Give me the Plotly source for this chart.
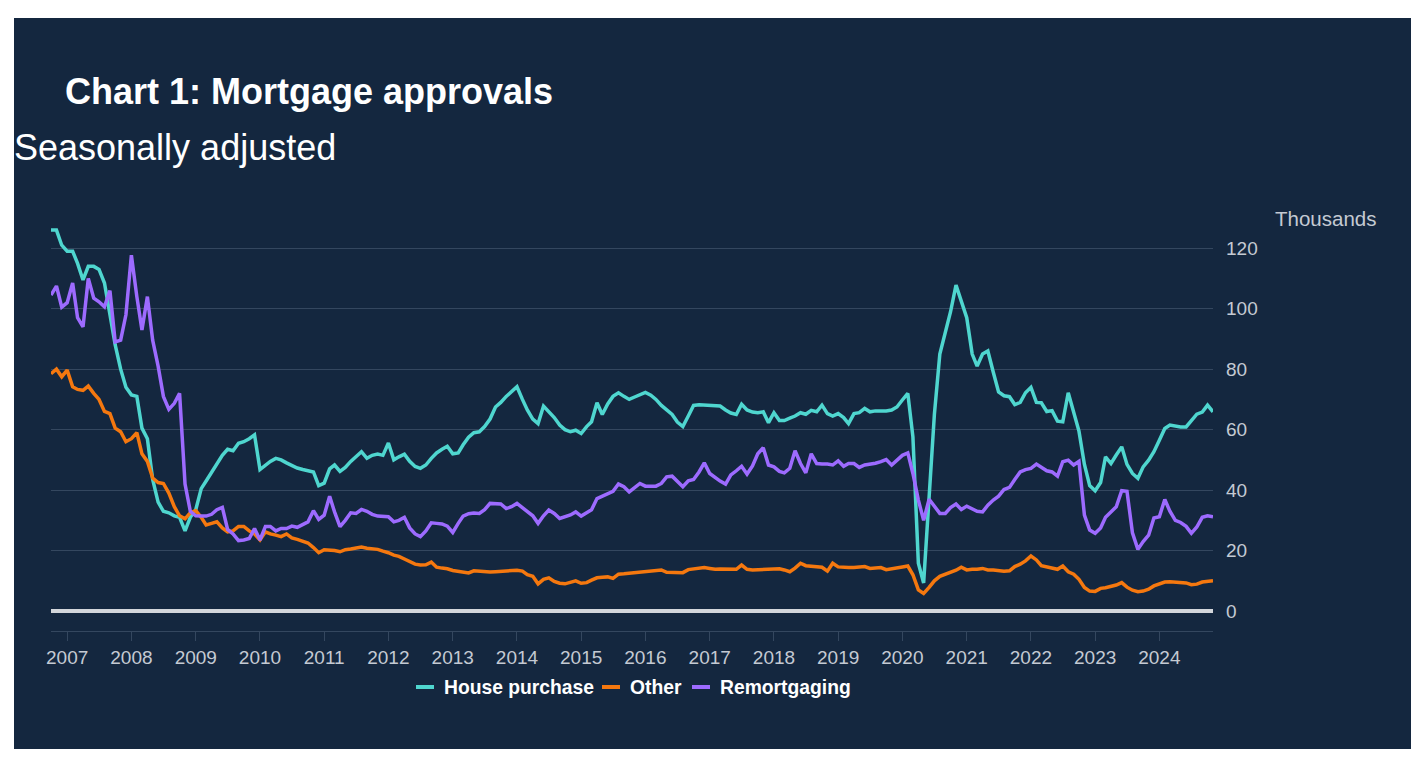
import pandas as pd
import plotly.graph_objects as go

# ---------------- data (thousands, seasonally adjusted, monthly from Oct 2006) ----------------
start_month = "2006-10-01"

house_purchase = [
    126, 126, 121, 119, 119, 115, 109.5, 114, 114, 113, 108.5, 98.5,
    88, 80, 74, 71.5, 71, 60.5, 57, 43.5, 36, 33, 32.5, 31.5,
    31, 26.5, 31, 33.5, 40.5, 43, 46, 48.5, 51.5, 53.5, 53, 55.5,
    56, 57, 58.3, 46.8, 48.2, 49.5, 50.5, 50, 49, 48, 47.3, 46.8,
    46.5, 46, 41.5, 42.3, 47, 48.3, 46.2, 47.5, 49.5, 51.2, 52.7, 50.5,
    51.5, 51.9, 51.5, 55.6, 50, 51, 51.9, 49.5, 47.8, 47.2, 48.3, 50.5,
    52.3, 53.5, 54.5, 52, 52.3, 55, 57.5, 59, 59.3, 61, 63.5, 67.5,
    69, 71, 72.5, 74.2, 70, 66.5, 63.5, 62, 67.8, 66, 64, 61.5,
    60, 59.3, 59.8, 58.7, 61, 62.6, 68.9, 65, 68.5, 71, 72.2, 71,
    70, 70.8, 71.5, 72.3, 71.4, 70, 68, 66.5, 65, 62.5, 61, 64.5,
    68, 68.2, 68.1, 68, 67.9, 67.8, 66.5, 65.5, 65, 68.4, 66.5, 65.8,
    65.6, 65.9, 62.3, 65.6, 63, 63, 63.8, 64.5, 65.6, 65.1, 66.4, 65.9,
    68.1, 65.3, 64.5, 65.3, 64, 62, 65.3, 65.6, 67, 65.9, 66.2, 66.2,
    66.2, 66.5, 67.5, 69.8, 72, 57.6, 15.8, 9.3, 38, 65, 85, 92,
    99, 107.8, 102, 97, 85, 81, 85, 86, 79, 72.5, 71.2, 70.9,
    68.3, 69, 72.2, 74, 69, 68.9, 66, 66.3, 62.8, 62.6, 72.2, 66,
    59.5, 48.5, 41.5, 39.8, 42.5, 51, 48.8, 51.6, 54.3, 48.5, 45.5, 43.9,
    47.7, 49.9, 52.7, 56.5, 60.4, 61.5, 61.2, 60.9, 60.9, 62.8, 65.1, 65.8,
    68.1, 65.9,
]

other = [
    78.5, 80, 77.5, 79.7, 74.2, 73.3, 73, 74.4, 72, 70, 66, 65.3,
    60.5, 59.3, 56, 57, 59, 52, 49.5, 44, 42.5, 42.2, 39, 34.5,
    31.5, 30.5, 32.5, 33.2, 31, 28.5, 29, 29.5, 27.5, 26.2, 26.5, 28,
    28, 26.5, 25.5, 23.5, 26.2, 25.5, 25.1, 24.6, 25.5, 24.2, 23.7, 23.2,
    22.5, 21, 19.3, 20.3, 20.2, 20, 19.6, 20.3, 20.5, 20.7, 21.2, 20.8,
    20.6, 20.4, 19.8, 19.3, 18.5, 18.1, 17.2, 16.3, 15.5, 15.2, 15.3, 16.2,
    14.5, 14.2, 14, 13.4, 13.1, 12.9, 12.6, 13.3, 13.1, 13, 12.9, 13,
    13.1, 13.1, 13.2, 13.5, 13.2, 12, 11.5, 9, 10.5, 11, 9.8, 9.2,
    9, 9.4, 10, 9.2, 9.4, 10.2, 11, 11.2, 11.3, 10.8, 12.2, 12.3,
    12.5, 12.7, 13, 13.2, 13.3, 13.4, 13.6, 12.8, 12.7, 12.6, 12.7, 13.7,
    14, 14.2, 14.4, 14.1, 13.8, 13.9, 13.8, 13.8, 13.8, 15.2, 13.8, 13.6,
    13.7, 13.8, 13.8, 13.8, 14, 13.6, 13, 14.2, 15.8, 15, 14.9, 14.7,
    14.5, 13.2, 15.8, 14.6, 14.4, 14.4, 14.4, 14.5, 14.7, 14.1, 14.3, 14.4,
    13.7, 14.1, 14.4, 14.6, 14.9, 12, 7, 5.8, 7.8, 10, 11.5, 12.2,
    12.8, 13.5, 14.5, 13.6, 13.8, 13.8, 14.1, 13.6, 13.6, 13.4, 13.2, 13.3,
    14.7, 15.5, 16.6, 18.2, 16.9, 15, 14.6, 14.1, 13.8, 14.9, 13, 12.2,
    10.5, 7.8, 6.6, 6.5, 7.5, 7.7, 8.1, 8.6, 9.4, 7.9, 6.9, 6.4,
    6.6, 7.2, 8.3, 9.1, 9.6, 9.7, 9.5, 9.4, 9.3, 8.7, 8.9, 9.6,
    9.9, 10,
]

remortgaging = [
    104.5, 107.5, 100.5, 102, 108.5, 97, 94, 110, 103.5, 102.3, 100.6, 106,
    89, 89.6, 98, 117.7, 104, 93, 104, 89.6, 81, 71, 66.7, 68.7,
    72, 42, 33, 31.5, 31.4, 31.4, 32, 33.5, 34.3, 27, 25.5, 23.3,
    23.5, 24, 27.3, 23.5, 28, 28, 26.5, 27.3, 27.3, 28.1, 27.7, 28.5,
    29.5, 33.2, 30.3, 31.7, 38, 32.8, 27.9, 30, 32.5, 32.3, 33.6, 33,
    32, 31.4, 31.4, 31.2, 29.5, 30, 31, 27.5, 25.5, 24.6, 26.5, 29.2,
    29, 28.8, 28.1, 26, 29, 31.4, 32.2, 32.4, 32.3, 33.5, 35.6, 35.5,
    35.4, 33.9, 34.5, 35.6, 34.3, 33, 31.5, 29, 31.5, 33.4, 32.3, 30.6,
    31.2, 31.8, 32.8, 31.4, 32.5, 33.5, 37.2, 38, 38.8, 39.6, 42, 41.1,
    39.4, 40.8, 42.2, 41.3, 41.3, 41.3, 42.2, 44.4, 44.6, 43, 41.1, 43.1,
    43.5, 46, 49, 45.5, 44, 43, 42, 45, 46.4, 47.9, 45.3, 48,
    52, 54, 48.3, 47.7, 46.2, 45.7, 47.2, 53, 48.8, 45.7, 52, 48.8,
    48.6, 48.6, 48.3, 49.7, 47.9, 48.8, 48.8, 47.5, 48.3, 48.5, 48.9, 49.4,
    50.1, 48.3, 49.7, 51.5, 52.3, 45.5, 36.7, 30, 37, 34.5, 32.3, 32.3,
    34.2, 35.4, 33.6, 34.7, 33.9, 33, 32.8, 35, 36.7, 38, 40.2, 40.9,
    43.5, 46, 46.8, 47.2, 48.6, 47.7, 46.4, 46, 44.6, 49.4, 49.9, 48.3,
    49.5, 31.7, 26.8, 25.7, 27.5, 31, 32.8, 34.5, 39.8, 39.6, 25.9, 20.4,
    23, 25.1, 30.8, 31.2, 36.9, 33, 30, 29.3, 28, 25.7, 27.8, 31,
    31.5, 31.2,
]

series_names = ["House purchase", "Other", "Remortgaging"]
y_ticks = [0, 20, 40, 60, 80, 100, 120]

assert len(house_purchase) == len(other) == len(remortgaging)
dates = pd.date_range(start_month, periods=len(house_purchase), freq="MS")

# ---------------- styling ----------------
NAVY = "#14273F"
GRID = "#34475F"
TICK = "#C4CAD3"
ZERO = "#D3D6DB"
COLORS = ["#4FD6CF", "#F5780F", "#9D6BFF"]
FONT = "Liberation Sans, Arial, Helvetica, sans-serif"

W, H = 1424, 762
L, R, T, B = 51, 211, 218, 131
PW, PH = W - L - R, H - T - B


def fx(px):
    return (px - L) / PW


def fy(py):
    return (H - B - py) / PH


fig = go.Figure()
for name, vals, col in zip(series_names, [house_purchase, other, remortgaging], COLORS):
    fig.add_trace(go.Scatter(x=dates, y=vals, mode="lines", name=name,
                             line=dict(color=col, width=3.5)))

shapes = [dict(type="rect", xref="paper", yref="paper",
               x0=fx(14), x1=fx(1411), y0=fy(749), y1=fy(18),
               fillcolor=NAVY, line=dict(width=0), layer="below")]


def note(text, px, py, size, color, bold=False):
    return dict(text=("<b>%s</b>" % text) if bold else text,
                x=fx(px), y=fy(py), xref="paper", yref="paper",
                xanchor="left", yanchor="middle", showarrow=False,
                font=dict(family=FONT, size=size, color=color))


annotations = [
    note("Chart 1: Mortgage approvals", 63, 92, 36, "white", bold=True),
    note("Seasonally adjusted", 12, 147, 36, "white"),
    note("Thousands", 1273, 218, 20.5, TICK),
]

# custom legend (short swatches like the original)
legend_y = 687
swatch_x = [416, 602, 692]
for name, col, sx in zip(series_names, COLORS, swatch_x):
    shapes.append(dict(type="line", xref="paper", yref="paper",
                       x0=fx(sx), x1=fx(sx + 18), y0=fy(legend_y), y1=fy(legend_y),
                       line=dict(color=col, width=4)))
    annotations.append(note(name, sx + 26, legend_y, 19.3, "white", bold=True))

fig.update_layout(
    width=W, height=H,
    margin=dict(l=L, r=R, t=T, b=B, pad=0),
    paper_bgcolor="white",
    plot_bgcolor=NAVY,
    showlegend=False,
    font=dict(family=FONT, color=TICK),
    shapes=shapes,
    annotations=annotations,
)

fig.update_xaxes(
    type="date",
    range=[dates[0], dates[-1]],
    tick0="2007-01-01", dtick="M12", tickformat="%Y",
    ticks="outside", ticklen=9, tickwidth=1, tickcolor=GRID,
    showline=True, linecolor=GRID, linewidth=1,
    showgrid=False, zeroline=False,
    tickfont=dict(family=FONT, size=19, color=TICK),
)

fig.update_yaxes(
    side="right",
    range=[-6.6, 130],
    tickvals=y_ticks,
    showgrid=True, gridcolor=GRID, gridwidth=1,
    zeroline=True, zerolinecolor=ZERO, zerolinewidth=4,
    ticks="", showline=False,
    ticklabelstandoff=12,
    tickfont=dict(family=FONT, size=19, color=TICK),
)

fig.write_html("out.html", config={"displayModeBar": False},
               post_script="document.body.style.margin='0px';")
